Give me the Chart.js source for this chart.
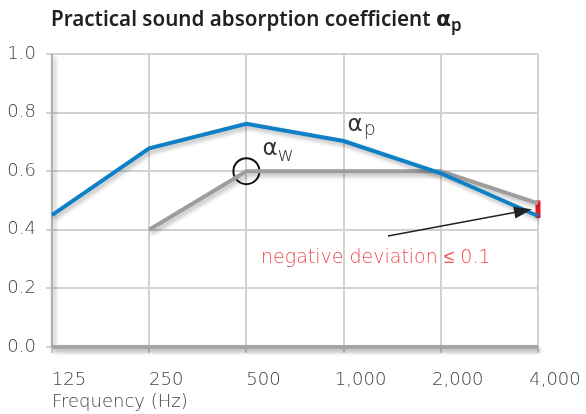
<!DOCTYPE html>
<html>
<head>
<meta charset="utf-8">
<script src="https://cdn.jsdelivr.net/npm/chart.js@4"></script>
<style>
  html, body { margin: 0; padding: 0; background: #fff; }
  #wrap { width: 586px; height: 414px; }
</style>
</head>
<body>
<div id="wrap"><canvas id="absorption"></canvas></div>
<script>
// data
const frequencies = ['125', '250', '500', '1,000', '2,000', '4,000'];
const alphaP = [0.45, 0.678, 0.762, 0.703, 0.593, 0.447];
const alphaW = [null, 0.40, 0.60, 0.60, 0.60, 0.49];
const deviationRange = [0.44, 0.50];
const yTicks = [0, 0.2, 0.4, 0.6, 0.8, 1.0];

const LIGHT = '"DejaVu Sans", sans-serif';

// shadows under the lines
const lineShadow = {
  id: 'lineShadow',
  beforeDatasetDraw(chart, args) {
    const ctx = chart.ctx;
    ctx.save();
    if (args.index < 2) {
      ctx.shadowColor = 'rgba(0,0,0,0.28)';
      ctx.shadowBlur = 4;
      ctx.shadowOffsetX = 2;
      ctx.shadowOffsetY = 3;
    }
  },
  afterDatasetDraw(chart) {
    chart.ctx.restore();
  },
};

// frame, title and annotations
const decorations = {
  id: 'decorations',
  beforeDatasetsDraw(chart) {
    const { ctx, chartArea: a } = chart;
    ctx.save();
    ctx.shadowColor = 'rgba(0,0,0,0.35)';
    ctx.shadowBlur = 4;
    ctx.shadowOffsetX = 2;
    ctx.shadowOffsetY = 3;
    ctx.strokeStyle = '#b0b0b0';
    ctx.lineWidth = 2;
    ctx.beginPath();
    ctx.moveTo(a.left, a.top);
    ctx.lineTo(a.left, a.bottom);
    ctx.stroke();
    ctx.strokeStyle = '#a5a5a5';
    ctx.lineWidth = 4;
    ctx.beginPath();
    ctx.moveTo(a.left, a.bottom);
    ctx.lineTo(a.right, a.bottom);
    ctx.stroke();
    ctx.restore();
  },
  afterDraw(chart) {
    const { ctx } = chart;
    const xs = chart.scales.x, ys = chart.scales.y;
    ctx.save();
    // title, fitted to the width of the original heading
    ctx.fillStyle = '#231f20';
    ctx.textBaseline = 'alphabetic';
    const t = 'Practical sound absorption coefficient ';
    ctx.font = '600 20px "Noto Sans", sans-serif';
    let size = 20 * 386 / ctx.measureText(t).width;
    ctx.font = '600 ' + size.toFixed(1) + 'px "Noto Sans", sans-serif';
    ctx.fillText(t, 51, 26);
    let w = ctx.measureText(t).width;
    ctx.font = 'bold 22px "DejaVu Sans", sans-serif';
    ctx.fillText('\u03b1', 51 + w, 26);
    w += ctx.measureText('\u03b1').width;
    ctx.font = '600 17px "Noto Sans", sans-serif';
    ctx.fillText('p', 51 + w, 31);

    // series labels
    ctx.fillStyle = '#333';
    const pX = xs.getPixelForValue(3) + 4, pY = ys.getPixelForValue(0.737);
    ctx.font = '23px "DejaVu Sans", sans-serif';
    ctx.fillText('\u03b1', pX, pY);
    let aw = ctx.measureText('\u03b1').width;
    ctx.font = '200 19px ' + LIGHT;
    ctx.fillText('p', pX + aw + 1, pY + 4);
    const wX = xs.getPixelForValue(2) + 16, wY = ys.getPixelForValue(0.655);
    ctx.font = '23px "DejaVu Sans", sans-serif';
    ctx.fillText('\u03b1', wX, wY);
    ctx.font = '200 20px ' + LIGHT;
    ctx.fillText('w', wX + aw, wY + 6);

    // arrow
    const ex = xs.getPixelForValue(5) - 6, ey = ys.getPixelForValue(0.47);
    const sx = 388, sy = 236;
    const ang = Math.atan2(ey - sy, ex - sx);
    ctx.strokeStyle = '#222';
    ctx.fillStyle = '#222';
    ctx.lineWidth = 1.5;
    ctx.beginPath();
    ctx.moveTo(sx, sy);
    ctx.lineTo(ex - 14 * Math.cos(ang), ey - 14 * Math.sin(ang));
    ctx.stroke();
    ctx.beginPath();
    ctx.moveTo(ex, ey);
    ctx.lineTo(ex - 18 * Math.cos(ang) + 6 * Math.sin(ang), ey - 18 * Math.sin(ang) - 6 * Math.cos(ang));
    ctx.lineTo(ex - 18 * Math.cos(ang) - 6 * Math.sin(ang), ey - 18 * Math.sin(ang) + 6 * Math.cos(ang));
    ctx.closePath();
    ctx.fill();

    // note
    ctx.fillStyle = '#ef4a4f';
    ctx.font = '200 19px ' + LIGHT;
    ctx.fillText('negative deviation \u2264 0.1', 261, 263);
    ctx.restore();
  },
};

new Chart('absorption', {
  type: 'line',
  data: {
    labels: frequencies,
    datasets: [
      {
        data: alphaP,
        borderColor: '#0f80c6',
        borderWidth: 4,
        pointRadius: 0,
        tension: 0,
      },
      {
        data: alphaW,
        borderColor: '#9d9d9d',
        borderWidth: 4,
        pointRadius: 0,
        tension: 0,
      },
      {
        data: deviationRange.map(v => ({ x: '4,000', y: v })),
        borderColor: '#ec1c24',
        borderWidth: 5,
        borderCapStyle: 'butt',
        pointRadius: 0,
        clip: 10,
      },
      {
        data: alphaW.map((v, i) => (i === 2 ? v : null)),
        showLine: false,
        pointRadius: 13,
        pointBorderWidth: 2,
        pointBorderColor: '#111',
        pointBackgroundColor: 'rgba(0,0,0,0)',
      },
    ],
  },
  options: {
    responsive: true,
    maintainAspectRatio: false,
    animation: false,
    layout: { padding: { top: 54, right: 48, left: 0, bottom: 0 } },
    plugins: {
      legend: { display: false },
      tooltip: { enabled: false },
    },
    scales: {
      x: {
        offset: false,
        grid: { color: '#d2d2d2', lineWidth: 2, tickLength: 6 },
        border: { display: false },
        ticks: {
          color: '#444',
          font: { family: LIGHT, size: 18, weight: 200 },
          labelOffset: 17,
          padding: 17,
          maxRotation: 0,
          autoSkip: false,
        },
        title: {
          display: true,
          text: 'Frequency (Hz)',
          align: 'start',
          color: '#444',
          font: { family: LIGHT, size: 18, weight: 200 },
          padding: { top: 0, bottom: 1 },
        },
        afterFit(scale) { scale.height = 67; },
      },
      y: {
        min: 0,
        max: 1,
        afterBuildTicks(scale) { scale.ticks = yTicks.map(v => ({ value: v })); },
        grid: { color: '#d2d2d2', lineWidth: 2, tickLength: 6 },
        border: { display: false },
        ticks: {
          color: '#444',
          font: { family: LIGHT, size: 18, weight: 200 },
          padding: 10,
          callback: v => v.toFixed(1),
        },
        afterFit(scale) { scale.width = 52; },
      },
    },
  },
  plugins: [lineShadow, decorations],
});
</script>
</body>
</html>
